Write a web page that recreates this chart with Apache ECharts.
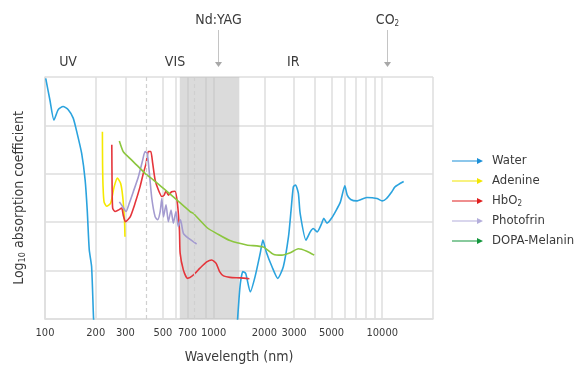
<!DOCTYPE html>
<html>
<head>
<meta charset="utf-8">
<script src="https://cdn.jsdelivr.net/npm/echarts@6/dist/echarts.min.js"></script>
<style>
  html, body { margin: 0; padding: 0; background: #fff; }
  #chart { width: 579px; height: 371px; }
</style>
</head>
<body>
<div id="chart"></div>
<script>
// axis ticks / grid
const xTickLabels = [100, 200, 300, 500, 700, 1000, 2000, 3000, 5000, 10000];
const xGridLines = [100, 200, 300, 500, 600, 700, 900, 1000, 2000, 3000, 4000, 5000, 6000, 7000, 8000, 9000, 10000, 20000];
const dashedLines = [400, 770];
const laserBand = [630, 1420];
const regionNames = ['UV', 'VIS', 'IR'];
const regionAt = [137, 590, 2970];
const laserNames = ['Nd:YAG', 'CO2'];
const laserAt = [1064, 10600];

// series (wavelength nm, log absorption in arbitrary grid units)
const waterWl = [101, 107, 113, 120, 128, 137, 147, 155, 165, 173, 178, 183, 189, 194, 198, 1000,
  1375, 1434, 1490, 1550, 1650, 1760, 1890, 1960, 2050, 2220, 2400, 2590, 2780, 2880, 2970, 3060, 3180,
  3260, 3530, 3740, 3900, 4110, 4380, 4500, 4700, 5000, 5340, 5650, 6000, 6200, 6500, 7050, 8100,
  9300, 10000, 10600, 11400, 11900, 13400];
const waterVal = [4.97, 4.52, 4.11, 4.33, 4.39, 4.33, 4.15, 3.84, 3.42, 2.87, 2.25, 1.43, 1.08, 0.02, -0.5, null,
  -0.2, 0.67, 0.98, 0.94, 0.56, 0.87, 1.36, 1.63, 1.39, 1.08, 0.84, 1.08, 1.70, 2.25, 2.73, 2.77, 2.60,
  2.18, 1.63, 1.80, 1.87, 1.80, 1.98, 2.08, 1.98, 2.08, 2.25, 2.42, 2.75, 2.56, 2.47, 2.44, 2.51,
  2.49, 2.44, 2.49, 2.63, 2.73, 2.84];

const adenineWl = [219, 219.5, 221, 224, 232, 245, 257, 269, 281, 289, 296, 298];
const adenineVal = [3.87, 3.2, 2.73, 2.42, 2.33, 2.39, 2.73, 2.91, 2.80, 2.53, 2.05, 1.70];

const hbo2Wl = [249, 250, 252, 260, 272, 285, 291, 300, 320, 342, 366, 383, 398, 410, 424, 435, 450, 470,
  493, 509, 522, 539, 564, 590, 610, 627, 633, 662, 700, 760, 830, 910, 975, 1035, 1085, 1145, 1250, 1440, 1630];
const hbo2Val = [3.60, 2.73, 2.29, 2.22, 2.25, 2.29, 2.15, 2.01, 2.11, 2.39, 2.73, 3.01, 3.22, 3.46, 3.46, 3.22, 2.87, 2.67,
  2.53, 2.56, 2.65, 2.56, 2.63, 2.64, 2.39, 1.84, 1.36, 1.01, 0.84, 0.91, 1.05, 1.18, 1.22, 1.15, 0.98, 0.89, 0.86, 0.85, 0.83];

const photofrinWl = [276, 289, 302, 316, 334, 358, 380, 392, 404, 416, 430, 450, 466, 482, 493, 504, 522,
  539, 559, 577, 598, 617, 636, 662, 708, 793];
const photofrinVal = [2.42, 2.32, 2.22, 2.39, 2.63, 2.94, 3.29, 3.46, 3.42, 3.01, 2.49, 2.11, 2.05, 2.22, 2.49, 2.11, 2.36,
  2.01, 2.25, 1.98, 2.22, 1.91, 2.05, 1.77, 1.67, 1.55];

const melaninWl = [276, 291, 312, 350, 392, 440, 504, 605, 725, 760, 920, 1040, 1250, 1570, 1970, 2260, 2540, 2850, 3180, 3570, 3950];
const melaninVal = [3.68, 3.46, 3.35, 3.18, 3.01, 2.87, 2.70, 2.46, 2.22, 2.18, 1.88, 1.77, 1.62, 1.53, 1.49, 1.34, 1.32, 1.37, 1.45, 1.40, 1.32];

const FONT = "'DejaVu Sans Condensed', 'DejaVu Sans', sans-serif";
const TXT = '#3a3a3a';
const GRID = '#dedede';

const pairs = (xs, ys) => xs.map((x, i) => [x, ys[i] === null ? '-' : ys[i]]);
const arrowIcon = 'path://M0,3.5 L25,3.5 L25,4.5 L0,4.5 Z M25,1 L31,4 L25,7 Z';

const chart = echarts.init(document.getElementById('chart'));

const lineSeries = (name, xs, ys, color) => ({
    name: name,
    type: 'line',
    data: pairs(xs, ys),
    smooth: 0.2,
    showSymbol: false,
    connectNulls: false,
    lineStyle: { color: color, width: 1.6 },
    itemStyle: { color: color },
    z: 3,
});

const water = lineSeries('Water', waterWl, waterVal, '#2ba3de');
water.markArea = {
    silent: true,
    itemStyle: { color: 'rgba(190,190,190,0.55)' },
    data: [[{ xAxis: laserBand[0] }, { xAxis: laserBand[1] }]],
};
water.markLine = {
    silent: true,
    symbol: 'none',
    label: { show: false },
    lineStyle: { color: '#d0d0d0', type: [4, 3], width: 1.2 },
    data: dashedLines.map(v => ({ xAxis: v })),
};

const option = {
    animation: false,
    textStyle: { fontFamily: FONT },
    grid: { left: 45, right: 146, top: 77, bottom: 52 },
    legend: {
        orient: 'vertical',
        left: 452,
        top: 154,
        padding: 0,
        itemWidth: 31,
        itemHeight: 8,
        itemGap: 6,
        icon: arrowIcon,
        textStyle: { fontSize: 13, color: TXT, fontFamily: FONT, padding: [0, 0, 0, 4], lineHeight: 14,
            rich: { sub: { fontSize: 8, verticalAlign: 'bottom', padding: [6, 0, 0, 0], fontFamily: FONT, color: TXT } } },
        formatter: n => n === 'HbO2' ? 'HbO{sub|2}' : n,
        data: [
            { name: 'Water', itemStyle: { color: '#1a8fd8' } },
            { name: 'Adenine', itemStyle: { color: '#f2e600' } },
            { name: 'HbO2', itemStyle: { color: '#e01e1e' } },
            { name: 'Photofrin', itemStyle: { color: '#b4aedb' } },
            { name: 'DOPA-Melanin', itemStyle: { color: '#12963c' } },
        ],
    },
    xAxis: {
        type: 'log',
        min: 100,
        max: 20000,
        name: 'Wavelength (nm)',
        nameLocation: 'middle',
        nameGap: 31,
        nameTextStyle: { fontSize: 14, color: TXT, fontFamily: FONT },
        axisLine: { lineStyle: { color: GRID, width: 1.5 } },
        axisTick: { show: false, customValues: xGridLines },
        axisLabel: { customValues: xTickLabels, fontSize: 11, color: TXT, margin: 9, fontFamily: FONT,
            formatter: v => String(Math.round(v)) },
        splitLine: { show: true, lineStyle: { color: GRID, width: 1.5 } },
    },
    yAxis: {
        type: 'value',
        min: 0,
        max: 5,
        interval: 1,
        name: '{n|Log}{s|10}{n| absorption coefficient}',
        nameLocation: 'middle',
        nameGap: 18,
        nameTextStyle: {
            rich: {
                n: { fontSize: 14, color: TXT, fontFamily: FONT },
                s: { fontSize: 9, color: TXT, fontFamily: FONT, verticalAlign: 'bottom', padding: [7, 0, 0, 0] },
            },
        },
        axisLine: { show: true, lineStyle: { color: GRID, width: 1.5 } },
        axisTick: { show: false },
        axisLabel: { show: false },
        splitLine: { lineStyle: { color: GRID, width: 1.5 } },
    },
    series: [
        water,
        lineSeries('Adenine', adenineWl, adenineVal, '#f5e900'),
        lineSeries('HbO2', hbo2Wl, hbo2Val, '#e5353b'),
        lineSeries('Photofrin', photofrinWl, photofrinVal, '#a49bd0'),
        lineSeries('DOPA-Melanin', melaninWl, melaninVal, '#8cc63f'),
    ],
};

chart.setOption(option);

// annotations above the plot, placed through the x scale
const topY = chart.convertToPixel({ yAxisIndex: 0 }, 5);
const gfx = [];
regionNames.forEach((name, i) => {
    gfx.push({
        type: 'text', x: chart.convertToPixel({ xAxisIndex: 0 }, regionAt[i]), y: topY - 15,
        style: { text: name, fill: TXT, font: '14px ' + FONT, align: 'center', verticalAlign: 'middle' },
    });
});
laserNames.forEach((name, i) => {
    const x = Math.round(chart.convertToPixel({ xAxisIndex: 0 }, laserAt[i])) + 0.5;
    gfx.push({
        type: 'text', x: x, y: 20,
        style: {
            text: name === 'CO2' ? '{n|CO}{s|2}' : name,
            rich: { n: { fontSize: 14, fill: TXT, fontFamily: FONT }, s: { fontSize: 8, fill: TXT, fontFamily: FONT, verticalAlign: 'bottom', padding: [7, 0, 0, 0] } },
            fill: TXT, font: '14px ' + FONT, align: 'center', verticalAlign: 'middle',
        },
    });
    gfx.push({ type: 'line', shape: { x1: x, y1: 30, x2: x, y2: topY - 14 }, style: { stroke: '#c4c4c4', lineWidth: 1 } });
    gfx.push({ type: 'polygon', shape: { points: [[x - 3.5, topY - 15], [x + 3.5, topY - 15], [x, topY - 10]] }, style: { fill: '#a8a8a8' } });
});
chart.setOption({ graphic: gfx });

window.addEventListener('resize', () => chart.resize());
</script>
</body>
</html>
